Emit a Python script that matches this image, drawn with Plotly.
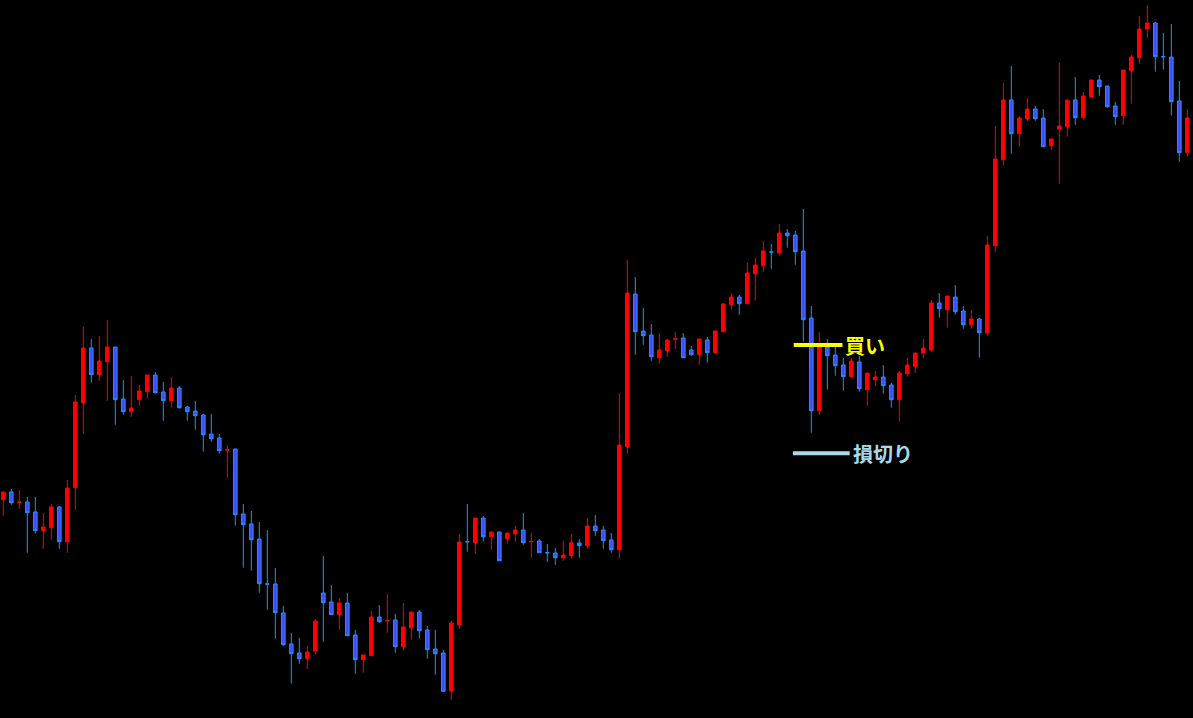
import plotly.graph_objects as go

# price levels (arbitrary chart units)
opens = [
    218.3, 226, 215.7, 216, 206, 187.3, 190.3, 211, 176.3, 230.3,
    315, 370, 343.3, 356.3, 371, 319, 306.3, 318.3, 326.3, 343,
    326, 317.3, 330, 311, 307, 303, 284, 280, 268, 269,
    204, 194, 179, 134.1, 134, 105, 74, 65, 59.3, 67,
    125, 116, 103.3, 115, 83, 58.3, 62.3, 101, 97.3, 98,
    71.3, 90.3, 106, 88, 69, 65, 27, 93, 176.4, 175,
    200, 181.3, 186, 179.3, 184.3, 188, 176.3, 177, 165.4, 165,
    160.3, 162.3, 175, 172.3, 192, 188, 178, 168.3, 271, 424,
    387, 383, 360.3, 367, 379, 380, 368, 363.3, 378, 365.3,
    386.3, 413.3, 421, 414.3, 444.3, 452.3, 466.1, 465.3, 485, 483,
    467, 400, 307.3, 371, 363, 353, 341.3, 356, 328.3, 338.3,
    341, 333, 318.3, 344.3, 351.3, 365, 368, 415, 408.3, 421,
    407, 393.3, 399, 385.3, 472.3, 558.3, 618, 584.3, 599, 609,
    600, 572.3, 589, 591.3, 618, 600.3, 621, 638, 632, 612,
    602.3, 647.3, 660.3, 689, 695, 661.4, 661, 617, 565.3,
]
highs = [
    226, 229, 228, 221, 221, 205, 214, 212, 238, 323,
    391, 379, 382, 398, 371, 338, 342, 333, 343, 346,
    336, 341, 332, 312, 317, 304, 304, 284, 273, 269,
    214, 207, 196, 188, 150, 112, 85, 80, 72.3, 99,
    162, 133, 120, 125, 88, 63, 107, 113, 124, 104,
    115, 106, 108, 92, 88, 68, 97, 184, 214, 200,
    202, 186, 186, 185, 192, 205, 185.3, 179, 174, 170,
    177.3, 184.3, 179, 200, 203, 192, 185, 325, 458, 441,
    410, 394, 385, 379, 386, 385, 372, 379, 381, 387,
    415, 425, 423, 455, 460, 477, 474, 494, 489, 487,
    509, 412, 386, 379, 372, 360, 360, 362, 345, 347,
    353, 335, 347, 360, 365, 379, 418, 425, 422, 433,
    412, 408, 400, 482, 592, 635, 652, 602, 620, 612,
    609, 579, 655, 618, 641, 626, 638, 643, 632, 616,
    648, 663, 702, 713, 696, 685, 694, 637, 609,
]
lows = [
    202.3, 213.3, 209.3, 165.3, 184.3, 169.3, 178.3, 169.3, 165.3, 208.3,
    284.3, 335.3, 337.3, 317.3, 293.3, 303.3, 301.3, 312.3, 319.3, 324.3,
    297.3, 310.3, 309.3, 297.3, 288.3, 266.3, 276.3, 264.3, 240.3, 192.3,
    150.3, 147.3, 125.3, 108.3, 79.3, 72.3, 34.3, 54.3, 49.3, 63.3,
    76.3, 103.3, 88.3, 82.3, 44.3, 45.3, 62.3, 95.3, 85.3, 65.3,
    67.3, 78.3, 79.3, 59.3, 43.3, 26.7, 18, 89, 166.3, 164.3,
    176.3, 168.3, 157.3, 174.3, 176.3, 173.3, 160.3, 165.3, 156.3, 153.3,
    157.3, 159.3, 160.3, 169.3, 182.3, 169.3, 165.3, 159.3, 264.3, 363.3,
    373.3, 357.3, 354.3, 361.3, 369, 360.3, 362.3, 353.3, 355.3, 364.3,
    386.3, 408.3, 403.3, 413.3, 417.3, 446.3, 449.3, 462.3, 470.3, 453.3,
    376.3, 285.3, 303.3, 328.3, 342.3, 327.3, 340.3, 326.3, 312.3, 332.3,
    324.3, 310.3, 296.3, 341.3, 345.3, 360, 367, 400.3, 390.3, 403.3,
    389.3, 389.3, 360.3, 382.3, 466.3, 552.3, 564.3, 571.3, 597, 597.3,
    571.3, 568.3, 534.3, 581.3, 593.3, 598.3, 620, 622.3, 610.3, 593.3,
    593.3, 614.3, 654.3, 680.3, 646.3, 648.3, 602.3, 556.3, 561.3,
]
closes = [
    226, 215.3, 215.9, 205.3, 187.3, 191, 211, 176.3, 230, 316,
    370, 343.3, 357, 371, 318.3, 306.3, 310, 327, 343, 325.3,
    317.3, 330, 310.3, 306.3, 302.3, 283.3, 279.3, 267.3, 268.2, 203.3,
    193.3, 178.3, 134.3, 133.9, 105.3, 73.3, 64.3, 59.3, 66, 97,
    115.3, 103.3, 115, 82.3, 58.3, 63, 101, 96.3, 97.5, 71.3,
    91, 106, 87.3, 68.3, 64.3, 26.7, 95, 176, 176.2, 200,
    181.3, 186, 157.3, 185, 188, 175.3, 176.5, 165.3, 165.2, 160.3,
    163, 175.3, 172.3, 192, 187.3, 177.3, 168.3, 273, 425, 386.3,
    382.3, 361.3, 368, 378, 379.2, 360.3, 363.3, 379, 365.3, 387,
    414, 421, 414.3, 445, 453, 467, 465.9, 485, 482.3, 466.3,
    398.3, 307.3, 371, 362.3, 352.3, 341.3, 357, 329.3, 345, 341,
    332.3, 318.3, 345, 353, 365, 370, 415, 409.3, 422, 406.3,
    393.3, 399, 385.3, 473, 559, 618, 584.3, 600, 609, 599.3,
    571.3, 579, 592, 618, 600.3, 622, 638, 631.3, 611.3, 601.3,
    648, 661, 689, 695, 661.3, 661.2, 616.3, 565.3, 600,
]
bars = list(range(len(opens)))

buy_level = 373.0
stop_level = 264.7
buy_span = (98.8, 104.9)
stop_span = (98.7, 105.8)

UP = "#FF0000"
DOWN_FILL = "#3F4DFF"
DOWN_LINE = "#1E90FF"
BUY_COLOR = "#FFFF00"
STOP_COLOR = "#A6DAEA"

fig = go.Figure()
fig.add_trace(go.Candlestick(
    x=bars, open=opens, high=highs, low=lows, close=closes,
    increasing=dict(line=dict(color=UP, width=1), fillcolor=UP),
    decreasing=dict(line=dict(color=DOWN_LINE, width=1), fillcolor=DOWN_FILL),
    whiskerwidth=0,
    hoverinfo="skip",
    showlegend=False,
))

fig.add_shape(type="line", x0=buy_span[0], x1=buy_span[1], y0=buy_level, y1=buy_level,
              line=dict(color=BUY_COLOR, width=4))
fig.add_shape(type="line", x0=stop_span[0], x1=stop_span[1], y0=stop_level, y1=stop_level,
              line=dict(color=STOP_COLOR, width=4))
fig.add_annotation(x=buy_span[1] + 0.05, y=buy_level, text="<b>買い</b>", showarrow=False,
                   xanchor="left", yanchor="middle",
                   font=dict(family="Noto Sans CJK JP", size=20, color=BUY_COLOR))
fig.add_annotation(x=stop_span[1] + 0.1, y=stop_level, text="<b>損切り</b>", showarrow=False,
                   xanchor="left", yanchor="middle",
                   font=dict(family="Noto Sans CJK JP", size=20, color=STOP_COLOR))

fig.update_layout(
    width=1193,
    height=718,
    margin=dict(l=0, r=0, t=0, b=0),
    paper_bgcolor="#000000",
    plot_bgcolor="#000000",
    boxgap=0.35,
    xaxis=dict(range=[-0.4125, 148.71], visible=False, rangeslider=dict(visible=False),
               showgrid=False, zeroline=False),
    yaxis=dict(range=[0, 718], visible=False, showgrid=False, zeroline=False),
)

fig.write_html("out.html", config={"displayModeBar": False},
               post_script="document.body.style.margin='0px';document.body.style.background='#000';")
